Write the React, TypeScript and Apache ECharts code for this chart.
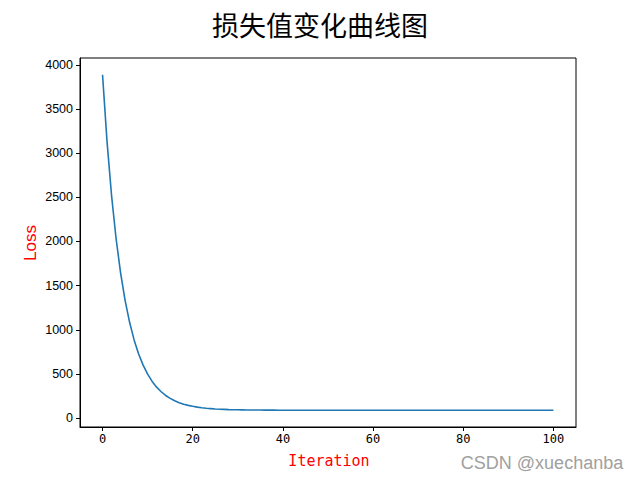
import React, { useEffect, useRef } from "react";
import * as echarts from "echarts";

const iterations: number[] = Array.from({ length: 101 }, (_, i) => i);
const lossValues: number[] = [
  3887, 3128, 2520, 2034, 1645, 1334, 1085, 886, 727, 600,
  498, 416, 351, 299, 257, 224, 197, 175, 158, 145,
  134, 125, 118, 112, 108, 104, 101, 99, 97, 96,
  95, 94, 93, 92, 92, 92, 91, 91, 91, 90,
  90, 90, 90, 90, 90, 90, 90, 90, 90, 90,
  90, 90, 90, 90, 90, 90, 90, 90, 90, 90,
  90, 90, 90, 90, 90, 90, 90, 90, 90, 90,
  90, 90, 90, 90, 90, 90, 90, 90, 90, 90,
  90, 90, 90, 90, 90, 90, 90, 90, 90, 90,
  90, 90, 90, 90, 90, 90, 90, 90, 90, 90,
  90,
];
const xTicks: number[] = [0, 20, 40, 60, 80, 100];
const yTicks: number[] = [0, 500, 1000, 1500, 2000, 2500, 3000, 3500, 4000];
const titleText = "损失值变化曲线图";
const xName = "Iteration";
const yName = "Loss";
const watermark = "CSDN @xuechanba";

export default function App() {
  const ref = useRef<HTMLDivElement>(null);
  useEffect(() => {
    if (!ref.current) return;
    const chart = echarts.init(ref.current, null, { renderer: "svg" });
    const data = iterations.map((x, i) => [x, lossValues[i]]);
    chart.setOption({
      animation: false,
      backgroundColor: "#ffffff",
      grid: {
        left: 80,
        top: 58,
        width: 496,
        height: 369,
        show: true,
        borderColor: "#000000",
        borderWidth: 1,
        containLabel: false,
        outerBoundsMode: "none",
      },
      xAxis: {
        type: "value",
        min: -5,
        max: 105,
        splitLine: { show: false },
        axisLine: { show: true, onZero: false, lineStyle: { color: "#000", width: 1 } },
        axisTick: {
          show: true,
          inside: false,
          length: 4,
          customValues: xTicks,
          lineStyle: { color: "#000" },
        },
        axisLabel: {
          customValues: xTicks,
          color: "#000",
          fontSize: 12,
          fontFamily: "DejaVu Sans Mono",
          margin: 6,
          formatter: (v: number) => String(v),
        },
      },
      yAxis: {
        type: "value",
        min: -100,
        max: 4077,
        splitLine: { show: false },
        axisLine: { show: true, onZero: false, lineStyle: { color: "#000", width: 1 } },
        axisTick: {
          show: true,
          inside: false,
          length: 4,
          customValues: yTicks,
          lineStyle: { color: "#000" },
        },
        axisLabel: {
          customValues: yTicks,
          color: "#000",
          fontSize: 12.5,
          fontFamily: "Liberation Sans",
          margin: 7,
          formatter: (v: number) => String(v),
        },
      },
      series: [
        {
          type: "line",
          data,
          showSymbol: false,
          symbol: "none",
          lineStyle: { color: "#1f77b4", width: 1.6 },
        },
      ],
      graphic: [
        {
          type: "text",
          x: 320,
          y: 24,
          style: {
            text: titleText,
            fill: "#000",
            font: '27px "Noto Sans CJK SC"',
            align: "center",
            verticalAlign: "middle",
          },
        },
        {
          type: "text",
          x: 329,
          y: 461,
          style: {
            text: xName,
            fill: "#ff0000",
            font: '15px "DejaVu Sans Mono"',
            align: "center",
            verticalAlign: "middle",
          },
        },
        {
          type: "text",
          x: 30,
          y: 243,
          rotation: Math.PI / 2,
          style: {
            text: yName,
            fill: "#ff0000",
            font: '17px "Liberation Sans"',
            align: "center",
            verticalAlign: "middle",
          },
        },
        {
          type: "text",
          x: 542,
          y: 463,
          style: {
            text: watermark,
            fill: "#a0a0a0",
            font: '18px "Liberation Sans"',
            align: "center",
            verticalAlign: "middle",
          },
        },
      ],
    });
    return () => chart.dispose();
  }, []);
  return (
    <div
      ref={ref}
      style={{ position: "fixed", left: 0, top: 0, width: 640, height: 480 }}
    />
  );
}
